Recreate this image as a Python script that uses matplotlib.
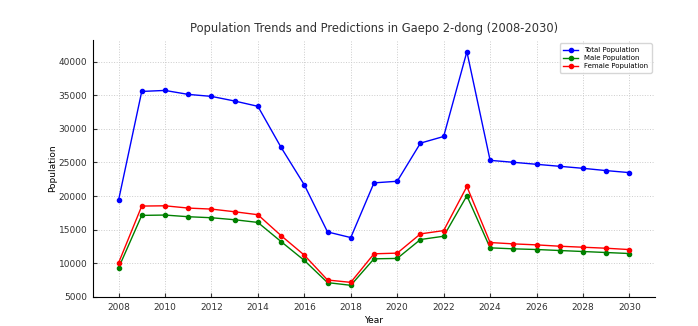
import numpy as np
import matplotlib
matplotlib.use("Agg")
import matplotlib.pyplot as plt

years = list(range(2008, 2031))
total_pop = [19350, 35600, 35750, 35160, 34860, 34170, 33380, 27250, 21660, 14640, 13800,
             21960, 22200, 27890, 28880, 41530, 25320, 25030, 24730, 24430, 24130, 23790, 23490]
male_pop = [9260, 17110, 17160, 16910, 16760, 16460, 16060, 13200, 10390, 7080, 6680,
            10630, 10690, 13510, 14000, 20030, 12270, 12120, 12020, 11870, 11720, 11570, 11420]
female_pop = [10000, 18500, 18540, 18200, 18050, 17650, 17210, 14090, 11180, 7470, 7120,
              11380, 11480, 14350, 14840, 21420, 13060, 12860, 12710, 12510, 12360, 12210, 12010]

fig = plt.figure(figsize=(6.98, 3.26), dpi=100)
ax = fig.add_axes([0.1332, 0.089, 0.8052, 0.7883])

ax.plot(years, total_pop, marker="o", color="blue", lw=1, ms=3, label="Total Population")
ax.plot(years, male_pop, marker="o", color="green", lw=1, ms=3, label="Male Population")
ax.plot(years, female_pop, marker="o", color="red", lw=1, ms=3, label="Female Population")

ax.set_title("Population Trends and Predictions in Gaepo 2-dong (2008-2030)", fontsize=8.3, color="#333333")
ax.set_xlabel("Year", fontsize=6.5, labelpad=3)
ax.set_ylabel("Population", fontsize=6.5, labelpad=1)
ax.set_xticks(range(2008, 2031, 2))
ax.tick_params(labelsize=6.5, direction="in", length=3, colors="#333333", pad=4)
ax.grid(True, linestyle=":", color="#cccccc", lw=0.7)
for s in ["top", "right"]:
    ax.spines[s].set_visible(False)
ax.legend(loc="upper right", fontsize=5, handlelength=2.2, borderpad=0.5, labelspacing=0.3)

fig.savefig("out.png", dpi=100)
